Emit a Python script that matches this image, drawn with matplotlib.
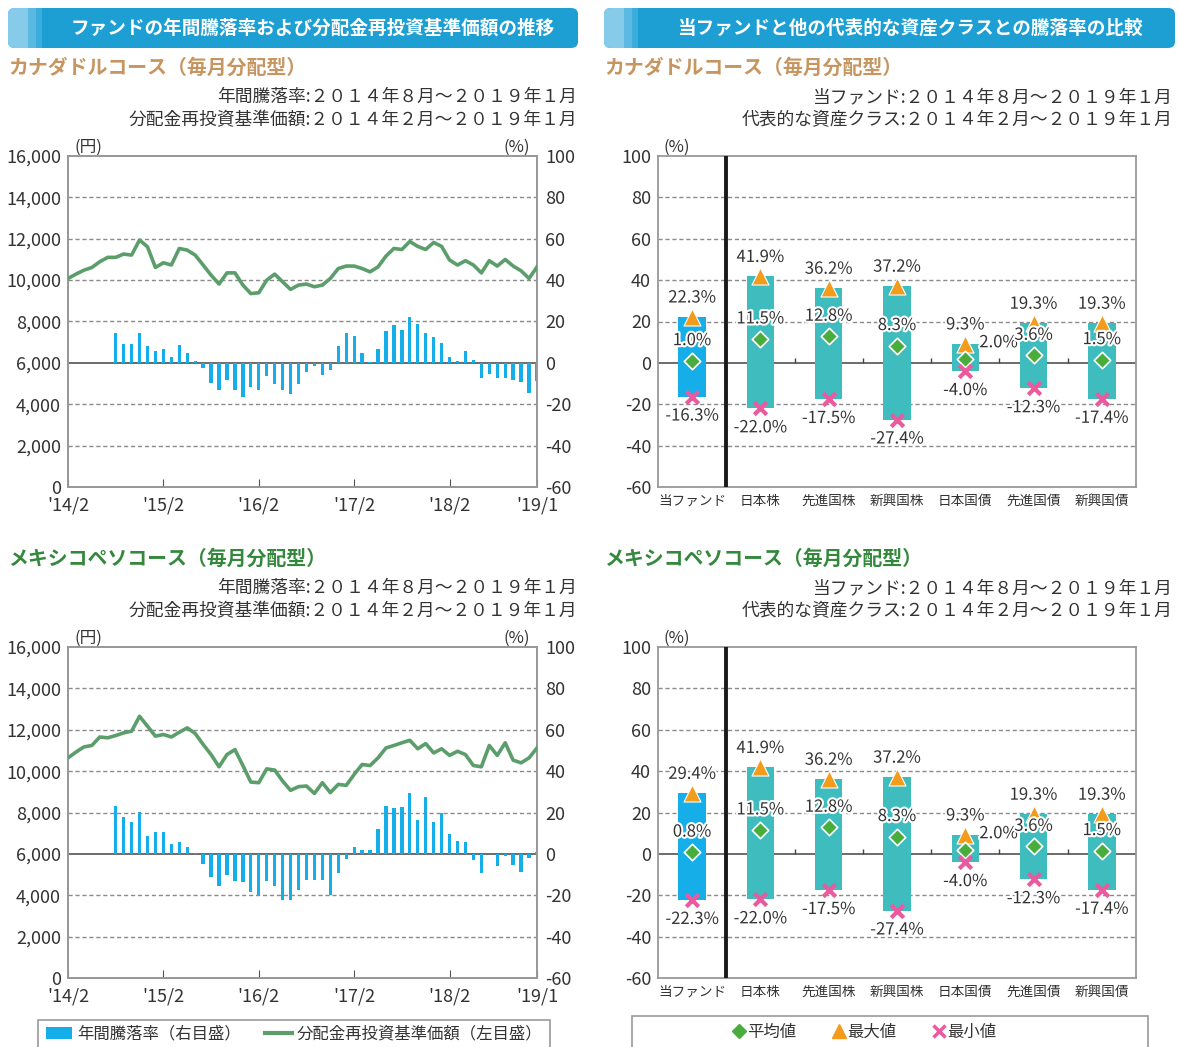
import numpy as np
import matplotlib
matplotlib.use("Agg")
import matplotlib.pyplot as plt
from matplotlib.patches import FancyBboxPatch, Rectangle, Patch
from matplotlib.lines import Line2D
import matplotlib.patheffects as pe

plt.rcParams['font.family'] = ['Noto Sans CJK JP', 'DejaVu Sans']
NUM = ['Liberation Sans Narrow', 'Noto Sans CJK JP']

# ---- data ----
x_labels = ["'14/2", "'15/2", "'16/2", "'17/2", "'18/2", "'19/1"]
x_label_pos = [0, 12, 24, 36, 48, 59]

# 分配金再投資基準価額 (円) 2014/2 - 2019/1
nav_cad = [10080, 10290, 10480, 10610, 10890, 11100, 11100, 11260, 11210, 11940,
           11610, 10610, 10840, 10730, 11530, 11450, 11210, 10730, 10240, 9810,
           10350, 10350, 9760, 9350, 9390, 10000, 10290, 9920, 9550, 9760,
           9810, 9680, 9760, 10080, 10560, 10680, 10680, 10560, 10400, 10640,
           11160, 11530, 11480, 11870, 11630, 11480, 11820, 11630, 10970, 10730,
           10940, 10730, 10350, 10940, 10680, 11000, 10680, 10450, 10080, 10640]
nav_mxn = [10640, 10920, 11170, 11240, 11650, 11610, 11720, 11850, 11930, 12650,
           12170, 11690, 11770, 11650, 11880, 12090, 11820, 11290, 10800, 10210,
           10800, 11040, 10270, 9470, 9440, 10110, 10050, 9520, 9070, 9250,
           9280, 8920, 9440, 8960, 9360, 9310, 9840, 10320, 10270, 10640,
           11120, 11240, 11370, 11490, 11080, 11330, 10880, 11080, 10760, 10960,
           10800, 10270, 10210, 11240, 10760, 11370, 10530, 10400, 10640, 11120]

# 年間騰落率 (%) 2014/8 - 2019/1
rate_cad = [14.2, 8.9, 8.9, 14.5, 8.1, 5.6, 6.6, 2.9, 8.5, 4.8,
            1.0, -2.7, -9.7, -12.9, -8.1, -13.2, -16.3, -11.9, -12.9, -6.3,
            -10.0, -13.2, -15.2, -10.3, -4.4, -1.6, -6.0, -3.5, 8.1, 14.2,
            12.9, 4.8, 0.3, 6.5, 15.5, 18.2, 16.1, 22.3, 19.0, 14.2,
            12.3, 9.4, 2.6, 1.0, 5.5, 1.3, -7.1, -5.2, -7.4, -7.4,
            -8.1, -9.2, -14.8, -8.7]
rate_mxn = [23.1, 18.0, 15.6, 20.4, 8.4, 10.6, 10.6, 4.8, 5.8, 3.5,
            0.3, -4.8, -11.2, -15.4, -10.1, -13.2, -13.8, -18.6, -20.2, -12.9,
            -15.4, -22.3, -22.2, -17.7, -12.5, -12.5, -12.5, -19.8, -9.3, -2.6,
            3.5, 1.9, 1.9, 11.9, 23.1, 22.0, 22.8, 29.4, 16.4, 27.3,
            15.6, 19.9, 9.6, 6.1, 5.8, -3.2, -9.3, -0.3, -6.1, -1.0,
            -5.3, -9.0, -2.2, 1.0]

categories = ["当ファンド", "日本株", "先進国株", "新興国株", "日本国債", "先進国債", "新興国債"]
asset_max = [41.9, 36.2, 37.2, 9.3, 19.3, 19.3]
asset_avg = [11.5, 12.8, 8.3, 2.0, 3.6, 1.5]
asset_min = [-22.0, -17.5, -27.4, -4.0, -12.3, -17.4]
fund_cad = [22.3, 1.0, -16.3]   # max, avg, min
fund_mxn = [29.4, 0.8, -22.3]

BLUE = '#15aee9'
GREEN = '#5b9e6b'
TEAL = '#3fbcbd'
GRID = '#8a8a8a'
TXT = '#333333'

W, H = 1179, 1047
fig = plt.figure(figsize=(W / 100, H / 100), dpi=100)


def fx(px):
    return px / W


def fy(py):
    return 1 - py / H


def header(x0, x1, text):
    box = FancyBboxPatch((fx(x0), fy(48)), fx(x1 - x0), 40 / H,
                         boxstyle="round,pad=0,rounding_size=0.006",
                         transform=fig.transFigure, facecolor='#1d9fd4', edgecolor='none')
    fig.patches.append(box)
    for a, b, c in [(x0, x0 + 20, '#86cbe9'), (x0 + 20, x0 + 28, '#5bb9e2'), (x0 + 28, x0 + 34, '#3aaddc')]:
        r = Rectangle((fx(a), fy(48)), fx(b - a), 40 / H, transform=fig.transFigure,
                      facecolor=c, edgecolor='none')
        r.set_clip_path(box)
        fig.patches.append(r)
    fig.text(fx((x0 + 40 + x1) / 2), fy(28), text, color='white', fontsize=13.4,
             fontweight='bold', ha='center', va='center')


header(8, 578, "ファンドの年間騰落率および分配金再投資基準価額の推移")
header(604, 1175, "当ファンドと他の代表的な資産クラスとの騰落率の比較")


def left_panel(top, nav, rate, course, ccolor):
    fig.text(fx(8), fy(top - 89), course, color=ccolor, fontsize=14.3, fontweight='bold',
             va='center', ha='left')
    fig.text(fx(577), fy(top - 59), "年間騰落率:２０１４年８月～２０１９年１月", color=TXT,
             fontsize=12.8, ha='right', va='center')
    fig.text(fx(577), fy(top - 36), "分配金再投資基準価額:２０１４年２月～２０１９年１月", color=TXT,
             fontsize=12.8, ha='right', va='center')

    ax = fig.add_axes([fx(68), fy(top + 331), fx(469), 331 / H])
    ax2 = ax.twinx()
    months = np.arange(len(nav))
    for lv in range(2000, 16000, 2000):
        if lv != 6000:
            ax.axhline(lv, color=GRID, lw=1, ls=(0, (3, 2)), zorder=1)
    ax.plot(months, nav, color=GREEN, lw=2.6, zorder=3, solid_joinstyle='round')
    ax2.bar(months[len(nav) - len(rate):], rate, width=0.42, color=BLUE, zorder=2)
    ax2.axhline(0, color='#444444', lw=1.1, zorder=1)
    ax.set_zorder(ax2.get_zorder() + 1)
    ax.patch.set_visible(False)

    ax.set_xlim(0, len(nav) - 1)
    ax.set_ylim(0, 16000)
    ax2.set_ylim(-60, 100)
    ax.set_yticks(range(0, 16001, 2000))
    ax.set_yticklabels([f"{v:,}" for v in range(0, 16001, 2000)], family=NUM, fontsize=13, color=TXT)
    ax2.set_yticks(range(-60, 101, 20))
    ax2.set_yticklabels([str(v) for v in range(-60, 101, 20)], family=NUM, fontsize=13, color=TXT)
    ax.set_xticks(x_label_pos)
    ax.set_xticklabels(x_labels, family=NUM, fontsize=13, color=TXT)
    ax.tick_params(axis='x', direction='in', length=6, color='#555555', pad=7)
    ax.tick_params(axis='y', length=0, pad=5)
    ax2.tick_params(axis='y', length=0, pad=6)
    for a in (ax, ax2):
        for s in a.spines.values():
            s.set_color('#999999')
            s.set_linewidth(1.3)
    ax.text(0.043, 1.0, "(円)", transform=ax.transAxes, family=NUM, fontsize=12, color=TXT,
            ha='center', va='bottom')
    ax.text(0.957, 1.0, "(%)", transform=ax.transAxes, family=NUM, fontsize=12, color=TXT,
            ha='center', va='bottom')


def right_panel(top, fund, course, ccolor):
    fig.text(fx(604), fy(top - 89), course, color=ccolor, fontsize=14.3, fontweight='bold',
             va='center', ha='left')
    fig.text(fx(1173), fy(top - 59), "当ファンド:２０１４年８月～２０１９年１月", color=TXT,
             fontsize=12.8, ha='right', va='center')
    fig.text(fx(1173), fy(top - 36), "代表的な資産クラス:２０１４年２月～２０１９年１月", color=TXT,
             fontsize=12.8, ha='right', va='center')

    ax = fig.add_axes([fx(658), fy(top + 331), fx(478), 331 / H])
    x = np.arange(len(categories))
    vmax = [fund[0]] + asset_max
    vavg = [fund[1]] + asset_avg
    vmin = [fund[2]] + asset_min
    for lv in [-40, -20, 20, 40, 60, 80]:
        ax.axhline(lv, color=GRID, lw=1, ls=(0, (3, 2)), zorder=1)
    ax.axhline(0, color='#444444', lw=1.1, zorder=1)
    ax.vlines(np.arange(1.5, 6), 0, 2.5, color='#444444', lw=1, zorder=1)
    colors = [BLUE] + [TEAL] * (len(categories) - 1)
    ax.bar(x, np.array(vmax) - np.array(vmin), bottom=vmin, width=0.4, color=colors, zorder=2)
    ax.axvline(0.5, color='#1a1a1a', lw=2.8, zorder=3)
    ax.scatter(x, vmax, marker='^', s=150, color='#f39b1b', edgecolor='white', lw=0.8, zorder=5)
    ax.scatter(x, vavg, marker='D', s=70, color='#48ad3b', edgecolor='white', lw=1.2, zorder=5)
    ax.scatter(x, vmin, marker='x', s=80, color='#ea5a9e', lw=3, zorder=5)

    halo = [pe.withStroke(linewidth=3, foreground='white')]
    for i in x:
        kw = dict(textcoords='offset points', family=NUM, fontsize=12, color=TXT,
                  ha='center', va='center', zorder=6, path_effects=halo)
        ax.annotate(f"{vmax[i]:.1f}%", (i, vmax[i]), xytext=(0, 13.5), **kw)
        if categories[i] == "日本国債":
            ax.annotate(f"{vavg[i]:.1f}%", (i, vavg[i]), xytext=(24, 11.5), **kw)
        else:
            ax.annotate(f"{vavg[i]:.1f}%", (i, vavg[i]), xytext=(0, 14.5), **kw)
        ax.annotate(f"{vmin[i]:.1f}%", (i, vmin[i]), xytext=(0, -14), **kw)

    ax.set_xlim(-0.5, len(categories) - 0.5)
    ax.set_ylim(-60, 100)
    ax.set_yticks(range(-60, 101, 20))
    ax.set_yticklabels([str(v) for v in range(-60, 101, 20)], family=NUM, fontsize=13, color=TXT)
    ax.set_xticks(x)
    ax.set_xticklabels(categories, fontsize=9.8, color=TXT)
    ax.tick_params(axis='x', length=0, pad=5)
    ax.tick_params(axis='y', length=0, pad=5)
    for s in ax.spines.values():
        s.set_color('#999999')
        s.set_linewidth(1.3)
    ax.text(0.04, 1.0, "(%)", transform=ax.transAxes, family=NUM, fontsize=12, color=TXT,
            ha='center', va='bottom')


left_panel(156, nav_cad, rate_cad, "カナダドルコース（毎月分配型）", '#c69560')
left_panel(647, nav_mxn, rate_mxn, "メキシコペソコース（毎月分配型）", '#33883c')
right_panel(156, fund_cad, "カナダドルコース（毎月分配型）", '#c69560')
right_panel(647, fund_mxn, "メキシコペソコース（毎月分配型）", '#33883c')

# legends
for x0, x1, y0 in [(38, 550, 1020), (632, 1148, 1016)]:
    fig.patches.append(Rectangle((fx(x0), fy(H + 5)), fx(x1 - x0), (H + 5 - y0) / H,
                                 transform=fig.transFigure, facecolor='white',
                                 edgecolor='#999999', lw=1.2))
h_left = [Patch(facecolor=BLUE, edgecolor='none'),
          Line2D([], [], color=GREEN, lw=3)]
fig.legend(h_left, ["年間騰落率（右目盛）", "分配金再投資基準価額（左目盛）"], loc='center',
           bbox_to_anchor=(fx(294), fy(1034)), ncol=2, frameon=False, fontsize=11.8,
           handlelength=1.6, handletextpad=0.3, columnspacing=1.5, labelcolor=TXT)
h_right = [Line2D([], [], ls='none', marker='D', ms=7, color='#48ad3b'),
           Line2D([], [], ls='none', marker='^', ms=10, color='#f39b1b'),
           Line2D([], [], ls='none', marker='x', ms=8, mew=2.5, color='#ea5a9e')]
fig.legend(h_right, ["平均値", "最大値", "最小値"], loc='center',
           bbox_to_anchor=(fx(864), fy(1032)), ncol=3, frameon=False, fontsize=11.8,
           handlelength=0.8, handletextpad=0.1, columnspacing=2.2, labelcolor=TXT)

fig.savefig("out.png", dpi=100)
